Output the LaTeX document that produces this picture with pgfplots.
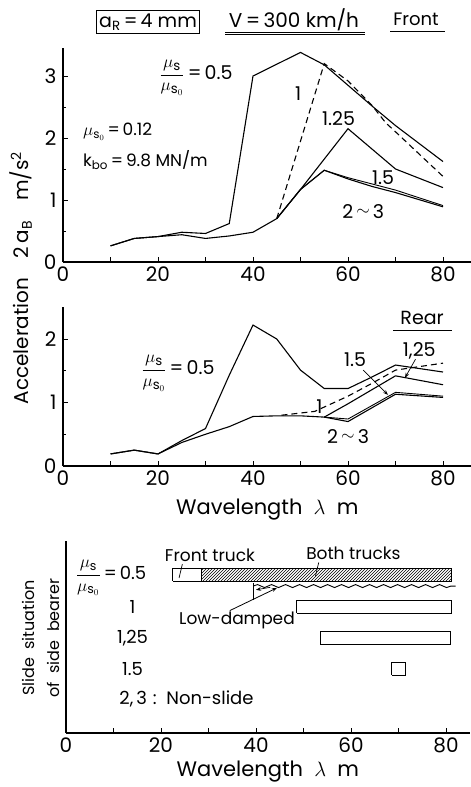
\documentclass[border=0pt]{standalone}
\usepackage{pgfplots}
\pgfplotsset{compat=1.18}
\usepackage{fontspec}
\setmainfont{Poppins}
\usetikzlibrary{patterns,decorations.pathmorphing,arrows.meta}
\newcommand{\fs}[1]{\fontsize{#1}{#1}\selectfont}
\newcommand{\ratio}{$\displaystyle\frac{\mu_{\mathrm{s}}}{\mu_{\mathrm{s}_0}}$}
\pgfplotsset{
  panel/.style={
    anchor=origin, x=4.75pt, enlargelimits=false, clip=false,
    axis lines=left, axis line style={-, line width=1.2pt},
    tick align=inside, major tick length=5pt, minor tick length=3pt,
    tick style={black, line width=0.9pt},
    xtick={0,10,...,80}, xticklabels={0,,20,,40,,60,,80},
    /pgf/number format/assume math mode=true,
    tick label style={font=\fs{20}},
    xticklabel style={yshift=-1pt},
    yticklabel style={xshift=-3pt},
    cycle list={{black,solid,mark=none}},
    every axis plot/.append style={line width=1.1pt, black, mark=none},
  }
}
\begin{document}
\begin{tikzpicture}
\path[use as bounding box] (0,0) rectangle (471pt,-787pt);
% header
\node[draw, line width=0.9pt, inner sep=3pt, font=\fs{19}] at (148pt,-22pt) {a\textsubscript{R}\,=\,4 mm};
\node[font=\fs{20}] (V) at (294pt,-20pt) {V\,=\,300 km/h};
\draw[line width=0.8pt] (225pt,-32pt) -- (365pt,-32pt);
\draw[line width=0.8pt] (225pt,-34pt) -- (365pt,-34pt);
\node[font=\fs{18}] at (416pt,-19pt) {Front};
\draw[line width=0.8pt] (390pt,-31pt) -- (445pt,-31pt);
% main y label
\node[rotate=90, font=\fs{20}] at (21pt,-278pt) {Acceleration\quad 2\,a\textsubscript{B}\quad m/s\textsuperscript{2}};

% ---------- Top panel (Front) ----------
\begin{axis}[panel, at={(63pt,-262pt)}, y=62pt,
  xmin=0, xmax=86, ymin=0, ymax=3.45,
  ytick={0,1,2,3}, minor ytick={0.5,1.5,2.5}]
\addplot coordinates {(10,0.26) (15,0.38) (20,0.41) (25,0.48) (30,0.46) (35,0.62) (40,3.0) (50,3.38) (55,3.18) (60,2.85) (65,2.52) (70,2.2) (80,1.62)};
\addplot[dashed, dash pattern=on 6pt off 4pt] coordinates {(45,0.7) (55,3.2) (60,2.92) (65,2.53) (68,2.24) (70,2.1) (80,1.38)};
\addplot coordinates {(45,0.7) (50,1.17) (55,1.66) (60,2.15) (70,1.5) (80,1.2)};
\addplot[line width=0.9pt] coordinates {(45,0.7) (50,1.17) (55,1.48) (60,1.36) (65,1.26) (70,1.16) (80,0.91)};
\addplot coordinates {(10,0.26) (15,0.38) (20,0.41) (25,0.44) (30,0.38) (35,0.42) (40,0.48) (45,0.7) (50,1.17) (55,1.48) (60,1.34) (65,1.22) (70,1.12) (80,0.89)};
\node[font=\fs{19}] at (axis cs:28,2.97) {\ratio\,=\,0.5};
\node[font=\fs{19}] at (axis cs:49.5,2.72) {1};
\node[font=\fs{19}] at (axis cs:58,2.32) {1.25};
\node[font=\fs{19}] at (axis cs:67.4,1.36) {1.5};
\node[font=\fs{19}] at (axis cs:63.2,0.81) {2\,\raisebox{0.3ex}{$\sim$}\,3};
\node[font=\fs{17}, anchor=west] at (axis cs:3.5,2.1) {$\mu_{\mathrm{s}_0}$\,=\,0.12};
\node[font=\fs{17}, anchor=west] at (axis cs:3.5,1.64) {k\textsubscript{bo}\,=\,9.8 MN/m};
\end{axis}

% ---------- Middle panel (Rear) ----------
\begin{axis}[panel, at={(63pt,-466pt)}, y=63.5pt,
  xmin=0, xmax=86, ymin=0, ymax=2.5,
  ytick={0,1,2}, minor ytick={0.5,1.5},
  xlabel={Wavelength\ \ $\lambda$\ \ m}, xlabel style={font=\fs{21}, yshift=-6pt}]
\addplot coordinates {(10,0.19) (15,0.25) (20,0.19) (25,0.4) (30,0.59) (35,1.43) (40,2.22) (45,2.0) (50,1.51) (55,1.22) (60,1.22) (65,1.4) (70,1.59) (80,1.48)};
\addplot[dashed, dash pattern=on 6pt off 4pt] coordinates {(46,0.8) (53,0.86) (60,1.1) (65,1.3) (70,1.51) (80,1.62)};
\addplot coordinates {(55,0.77) (60,0.98) (70,1.42) (80,1.28)};
\addplot[line width=0.9pt] coordinates {(55,0.77) (60,0.74) (70,1.16) (80,1.1)};
\addplot coordinates {(10,0.19) (15,0.25) (20,0.19) (25,0.37) (30,0.5) (35,0.62) (40,0.78) (45,0.79) (50,0.79) (55,0.77) (60,0.7) (70,1.13) (80,1.08)};
\node[font=\fs{19}] at (axis cs:75.6,2.33) {Rear};
\draw[line width=0.8pt] (axis cs:69.5,2.14) -- (axis cs:81.8,2.14);
\node[font=\fs{19}] at (axis cs:24.2,1.46) {\ratio\,=\,0.5};
\node[font=\fs{19}] at (axis cs:61.5,1.67) {1.5};
\node[font=\fs{19}] at (axis cs:75,1.82) {1,25};
\node[font=\fs{19}] at (axis cs:54,0.93) {1};
\node[font=\fs{19}] at (axis cs:60,0.46) {2\,\raisebox{0.3ex}{$\sim$}\,3};
\draw[-{Stealth[length=5pt]}, line width=0.7pt] (axis cs:63.2,1.51) -- (axis cs:68.4,1.12);
\draw[-{Stealth[length=5pt]}, line width=0.7pt] (axis cs:74.2,1.68) -- (axis cs:72,1.39);
\end{axis}

% ---------- Bottom panel (slide situation) ----------
\begin{axis}[panel, at={(66pt,-733pt)}, y=31pt,
  xmin=0, xmax=85, ymin=0, ymax=6.2,
  ytick=\empty,
  xlabel={Wavelength\ \ $\lambda$\ \ m}, xlabel style={font=\fs{21}, yshift=-1pt}]
% Front truck only (open)
\addplot[fill=white, line width=1pt] coordinates {(22.5,4.9) (28.6,4.9) (28.6,5.3) (22.5,5.3) (22.5,4.9)};
% Both trucks (hatched)
\addplot[pattern=north east lines, line width=1pt] coordinates {(28.6,4.9) (81.2,4.9) (81.2,5.3) (28.6,5.3) (28.6,4.9)};
% Low-damped (wavy)
\addplot[line width=0.9pt, decorate, decoration={snake, amplitude=1.5pt, segment length=14pt}] coordinates {(39.4,4.74) (82,4.74)};
\addplot[line width=1pt] coordinates {(39.4,4.84) (39.4,4.3)};
% mu ratio 1
\addplot[fill=white, line width=1pt] coordinates {(48.6,3.87) (81.2,3.87) (81.2,4.29) (48.6,4.29) (48.6,3.87)};
% 1.25
\addplot[fill=white, line width=1pt] coordinates {(53.5,2.87) (81,2.87) (81,3.29) (53.5,3.29) (53.5,2.87)};
% 1.5
\addplot[fill=white, line width=1pt] coordinates {(68.6,1.87) (71.4,1.87) (71.4,2.26) (68.6,2.26) (68.6,1.87)};
\node[font=\fs{17}] at (axis cs:30.3,5.74) {Front truck};
\node[font=\fs{17}] at (axis cs:60.5,5.8) {Both trucks};
\draw[line width=0.7pt] (axis cs:24.5,5.45) -- (axis cs:23.8,5.0);
\draw[line width=0.7pt] (axis cs:53.2,5.5) -- (axis cs:52.5,5.05);
\draw[{Stealth[length=5pt]}-, line width=0.7pt] (axis cs:40,4.62) -- (axis cs:43,4.7);
\draw[-{Stealth[length=5pt]}, line width=0.8pt] (axis cs:34.5,3.95) -- (axis cs:44.4,4.68);
\node[font=\fs{17}] at (axis cs:36,3.62) {Low-damped};
\node[font=\fs{18}] at (axis cs:9.5,5.0) {\ratio\,=\,0.5};
\node[font=\fs{18}] at (axis cs:14,4.05) {1};
\node[font=\fs{18}] at (axis cs:14,3.05) {1,25};
\node[font=\fs{18}] at (axis cs:14,2.05) {1.5};
\node[font=\fs{18}, anchor=west] at (axis cs:10.5,1.1) {2,\,3\,\,:\ \ Non-slide};
\end{axis}
\node[rotate=90, font=\fs{16}, align=center] at (41pt,-638pt) {Slide\ \ situation\\[9pt]of\ \ side\ \ bearer};
\end{tikzpicture}
\end{document}
